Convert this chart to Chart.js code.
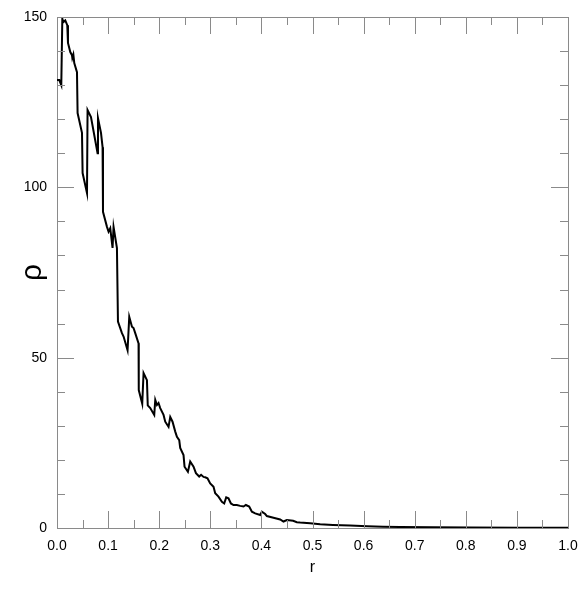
<!DOCTYPE html>
<html>
<head>
<meta charset="utf-8">
<script src="https://cdn.jsdelivr.net/npm/chart.js@4/dist/chart.umd.min.js"></script>
<style>
  html, body { margin: 0; padding: 0; background: #fff; }
  #wrap { width: 586px; height: 592px; }
</style>
</head>
<body>
<div id="wrap"><canvas id="c" width="586" height="592"></canvas></div>
<script>
// radius r and density rho
const rValues = [
  0.000, 0.0045, 0.0084, 0.0104, 0.0123, 0.0162, 0.0201, 0.0215, 0.026, 0.0293,
  0.030, 0.032, 0.0338, 0.0391, 0.0403, 0.0489, 0.0501, 0.0587, 0.0598, 0.0665,
  0.0794, 0.0802, 0.0861, 0.0892, 0.090, 0.0978, 0.1009, 0.1042, 0.1087, 0.1107,
  0.1173, 0.1193, 0.1271, 0.1303, 0.1381, 0.1414, 0.1467, 0.1498, 0.1531, 0.1596,
  0.160, 0.1668, 0.1694, 0.176, 0.1776, 0.1825, 0.1903, 0.1923, 0.1956, 0.1987,
  0.202, 0.2085, 0.2118, 0.2183, 0.2216, 0.2261, 0.2314, 0.2347, 0.2392, 0.2411,
  0.2476, 0.2496, 0.2562, 0.2607, 0.2672, 0.2719, 0.2783, 0.282, 0.2867, 0.290,
  0.2945, 0.2998, 0.3063, 0.3096, 0.316, 0.3227, 0.3272, 0.3311, 0.3356, 0.3403,
  0.3454, 0.352, 0.3585, 0.365, 0.3696, 0.3761, 0.3814, 0.3878, 0.3976, 0.4009,
  0.4074, 0.4107, 0.4236, 0.4367, 0.4432, 0.4498, 0.4621, 0.4694, 0.4758, 0.4954,
  0.515, 0.54, 0.5736, 0.607, 0.638, 0.671, 0.736, 0.808, 0.906, 1.0
];
const rhoValues = [
  131.5, 131.5, 130, 149.5, 148.5, 149, 147.6, 142.4, 139.7, 138.8,
  138, 139, 136.5, 133.8, 121.8, 116, 104.2, 98.3, 122.7, 120.6,
  110, 120.3, 116, 111.8, 92.8, 88.4, 87, 88, 82.2, 88.4,
  82.2, 60.6, 57.2, 56.2, 52.2, 62, 59.1, 58.7, 57.2, 54.2,
  40.5, 36.5, 45.5, 43.4, 36, 35.2, 33.2, 37.6, 36.1, 36.7,
  35.2, 33.2, 31.2, 29.7, 32.6, 31.2, 28.3, 26.8, 25.8, 23.5,
  21.4, 18, 16.5, 19.5, 18, 16.1, 15.1, 15.6, 15, 14.9,
  14.6, 13.1, 12.1, 10.2, 9.2, 7.7, 7.2, 9, 8.7, 7.2,
  6.75, 6.75, 6.5, 6.3, 6.75, 6.3, 4.8, 4.3, 3.8, 4.8,
  4.1, 3.5, 3.0, 2.5, 1.9, 2.35, 2.1, 1.7, 1.6, 1.4,
  1.1, 0.9, 0.7, 0.5, 0.4, 0.3, 0.2, 0.15, 0.1, 0.08
];

const xMajor = [0, 0.1, 0.2, 0.3, 0.4, 0.5, 0.6, 0.7, 0.8, 0.9, 1.0];
const xMinor = [0.05, 0.15, 0.25, 0.35, 0.45, 0.55, 0.65, 0.75, 0.85, 0.95];
const yMajor = [0, 50, 100, 150];
const yMinor = [10, 20, 30, 40, 60, 70, 80, 90, 110, 120, 130, 140];

const points = rValues.map((r, i) => ({ x: r, y: rhoValues[i] }));

// ticks point inward on all four sides, frame closed on top/right
const frameTicks = {
  id: 'frameTicks',
  afterDraw(chart) {
    const { ctx, chartArea: a, scales } = chart;
    const xs = scales.x, ys = scales.y;
    ctx.save();
    ctx.strokeStyle = '#8a8a8a';
    ctx.lineWidth = 1;
    ctx.beginPath();
    ctx.moveTo(a.left + 0.5, a.top + 0.5);
    ctx.lineTo(a.right + 0.5, a.top + 0.5);
    ctx.lineTo(a.right + 0.5, a.bottom + 0.5);
    ctx.stroke();

    const tick = (vals, len, horiz) => {
      vals.forEach(v => {
        if (horiz) {
          const px = Math.round(xs.getPixelForValue(v)) + 0.5;
          ctx.moveTo(px, a.bottom); ctx.lineTo(px, a.bottom - len);
          ctx.moveTo(px, a.top); ctx.lineTo(px, a.top + len);
        } else {
          const py = Math.round(ys.getPixelForValue(v)) + 0.5;
          ctx.moveTo(a.left, py); ctx.lineTo(a.left + len, py);
          ctx.moveTo(a.right, py); ctx.lineTo(a.right - len, py);
        }
      });
    };
    ctx.beginPath();
    tick(xMajor, 17, true);
    tick(xMinor, 8, true);
    tick(yMajor, 17, false);
    tick(yMinor, 8, false);
    ctx.stroke();
    ctx.restore();
  }
};

new Chart(document.getElementById('c'), {
  type: 'scatter',
  data: {
    datasets: [{
      data: points,
      showLine: true,
      borderColor: '#000',
      borderWidth: 2,
      pointRadius: 0,
      tension: 0
    }]
  },
  options: {
    responsive: false,
    animation: false,
    devicePixelRatio: 1,
    layout: { padding: { top: 17, right: 18, left: 0, bottom: 0 } },
    plugins: { legend: { display: false }, tooltip: { enabled: false } },
    scales: {
      x: {
        type: 'linear',
        min: 0, max: 1,
        afterFit: s => { s.height = 64; s.paddingLeft = 0; s.paddingRight = 0; },
        ticks: {
          stepSize: 0.1,
          padding: 10,
          color: '#000',
          font: { family: 'Liberation Sans', size: 14 },
          maxRotation: 0,
          callback: v => v.toFixed(1)
        },
        grid: { drawOnChartArea: false, drawTicks: false },
        border: { color: '#8a8a8a', width: 1 },
        title: {
          display: true,
          text: 'r',
          color: '#000',
          font: { family: 'Liberation Sans', size: 16 },
          padding: { top: 0, bottom: 15 }
        }
      },
      y: {
        min: 0, max: 150,
        afterFit: s => { s.width = 57; s.paddingTop = 0; s.paddingBottom = 0; },
        ticks: {
          stepSize: 50,
          padding: 10,
          color: '#000',
          font: { family: 'Liberation Sans', size: 14 }
        },
        grid: { drawOnChartArea: false, drawTicks: false },
        border: { color: '#8a8a8a', width: 1 },
        title: {
          display: true,
          text: 'ρ',
          color: '#000',
          font: { family: 'Liberation Sans', size: 30 },
          padding: { top: 15, bottom: 0 }
        }
      }
    }
  },
  plugins: [frameTicks]
});
</script>
</body>
</html>
